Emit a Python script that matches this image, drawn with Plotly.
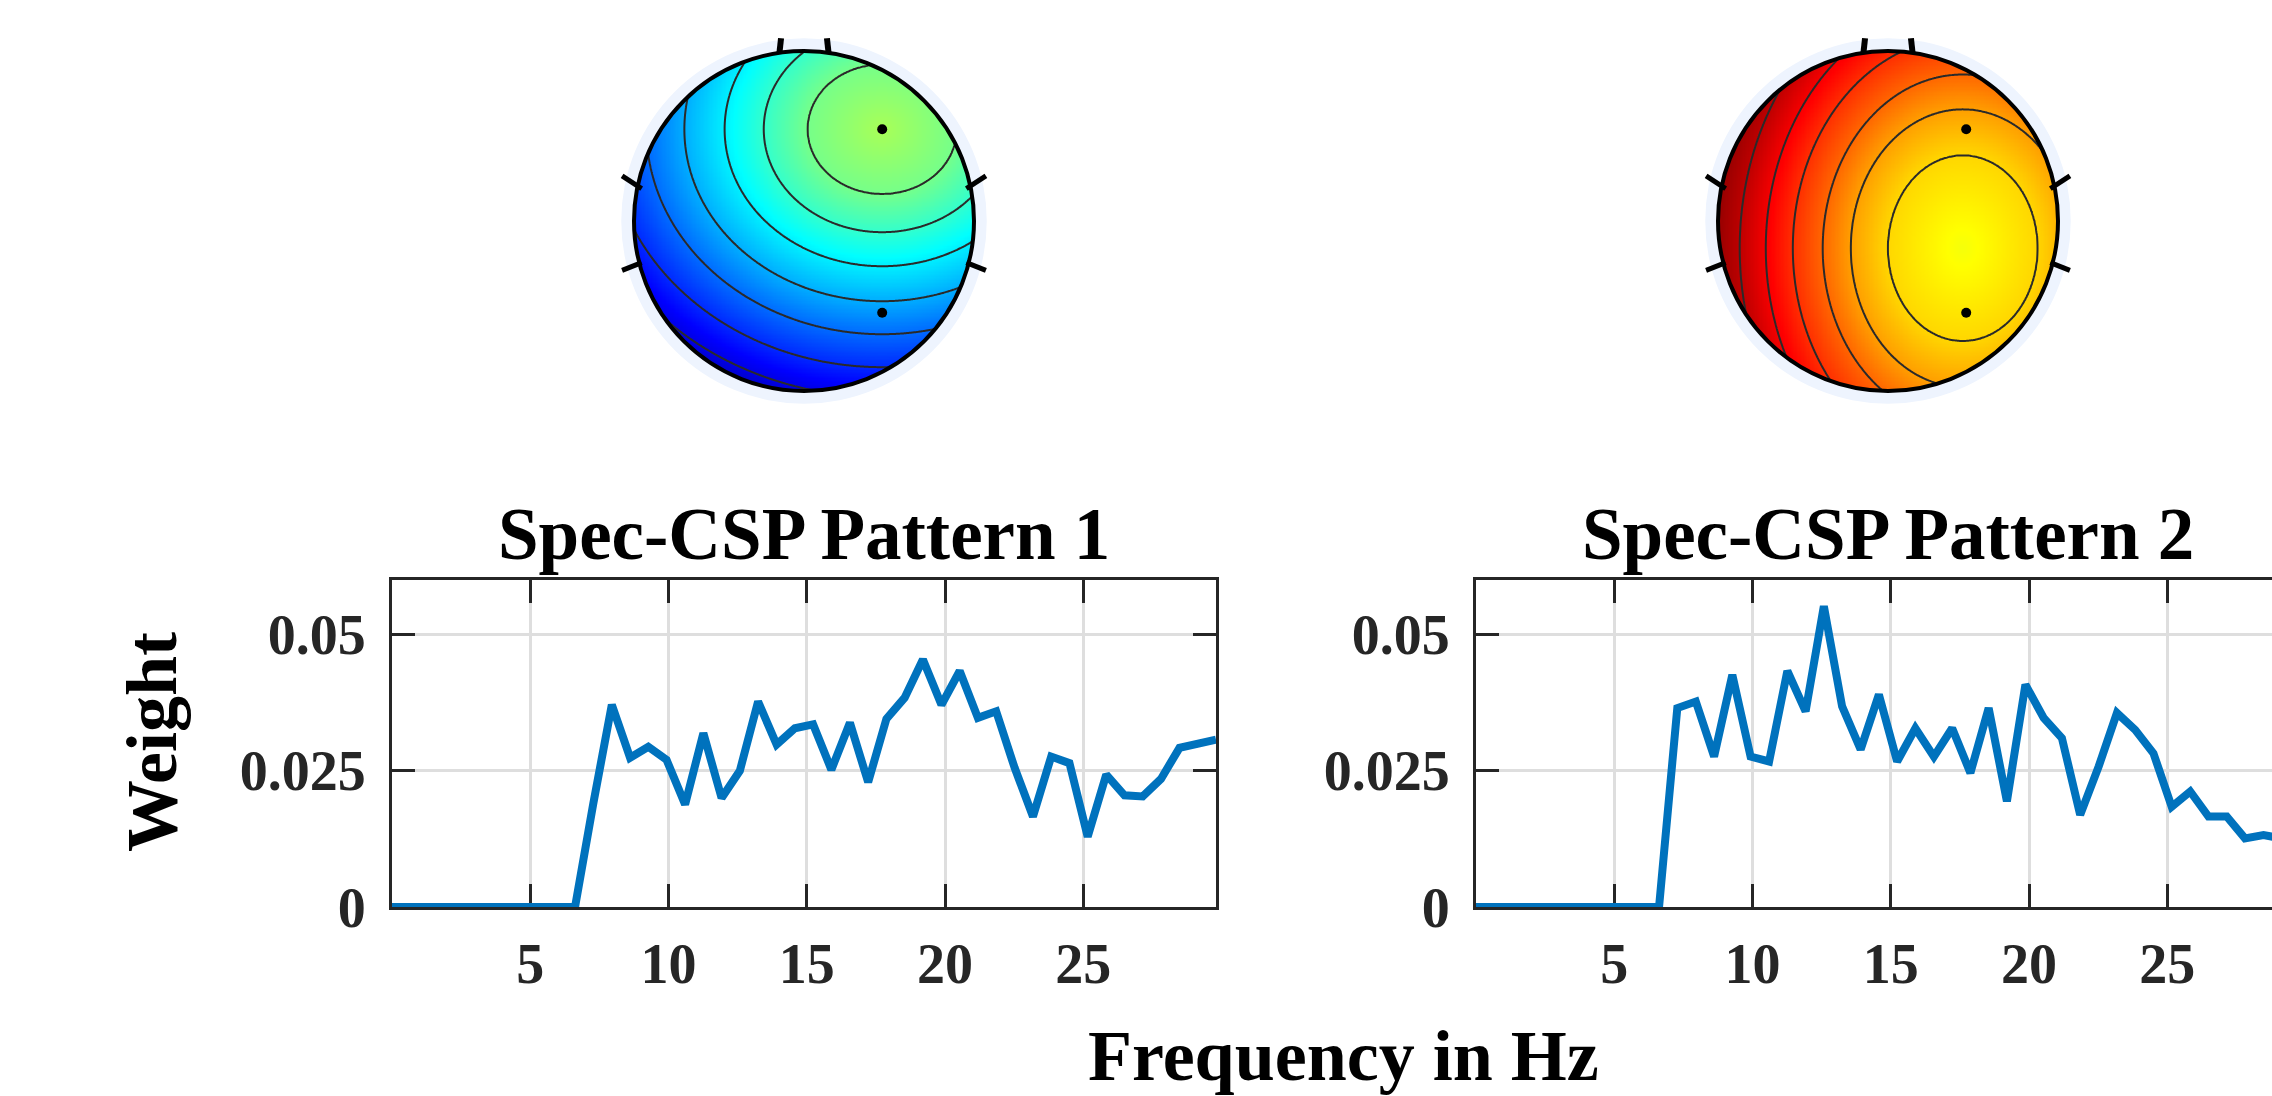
import numpy as np
import plotly.graph_objects as go

# ---------------- data ----------------
FREQ_HZ = [0.00, 0.66, 1.32, 1.99, 2.65, 3.31, 3.97, 4.64, 5.30, 5.96,
           6.62, 7.28, 7.95, 8.61, 9.27, 9.93, 10.60, 11.26, 11.92, 12.58,
           13.24, 13.91, 14.57, 15.23, 15.89, 16.56, 17.22, 17.88, 18.54, 19.20,
           19.87, 20.53, 21.19, 21.85, 22.52, 23.18, 23.84, 24.50, 25.16, 25.83,
           26.49, 27.15, 27.81, 28.48, 29.14, 29.80]

PATTERN1_WEIGHT = [0, 0, 0, 0, 0, 0, 0, 0, 0, 0, 0,
                   0.0190, 0.0371, 0.0274, 0.0294, 0.0270, 0.0188, 0.0319, 0.0200, 0.0250, 0.0377,
                   0.0298, 0.0328, 0.0335, 0.0252, 0.0338, 0.0229, 0.0345, 0.0384, 0.0454, 0.0371,
                   0.0433, 0.0347, 0.0359, 0.0255, 0.0166, 0.0276, 0.0264, 0.0129, 0.0243, 0.0205,
                   0.0203, 0.0235, 0.0292, 0.0298, 0.0307]

PATTERN2_WEIGHT = [0, 0, 0, 0, 0, 0, 0, 0, 0, 0, 0,
                   0.0365, 0.0377, 0.0276, 0.0426, 0.0276, 0.0267, 0.0433, 0.0359, 0.0552, 0.0368,
                   0.0289, 0.0390, 0.0267, 0.0328, 0.0276, 0.0328, 0.0246, 0.0365, 0.0194, 0.0408,
                   0.0347, 0.0310, 0.0169, 0.0258, 0.0356, 0.0325, 0.0282, 0.0184, 0.0212, 0.0166,
                   0.0166, 0.0126, 0.0132, 0.0125, 0.0120]

TITLES = ["Spec-CSP Pattern 1", "Spec-CSP Pattern 2"]
X_TICKS = [5, 10, 15, 20, 25]
Y_TICKS = [0, 0.025, 0.05]
Y_TICK_TEXT = ["0", "0.025", "0.05"]

# scalp maps: electrode positions (head-radius units) and radial value profiles
ELEC_X = [0.46, 0.46]
ELEC_Y = [0.54, -0.54]
MAP1_CENTER = (0.46, 0.54)
MAP1_DIST = [0.0, 0.382, 0.606, 0.806, 1.012, 1.206, 1.40, 1.576, 1.676, 1.80, 2.35]
MAP1_VAL = [0.54, 0.49, 0.425, 0.36, 0.295, 0.23, 0.165, 0.10, 0.06, 0.02, 0.0]
MAP1_LEVELS = (0.035, 0.49, 0.065)
MAP2_CENTER = (0.44, -0.16)
MAP2_DIST = [0.0, 0.441, 0.659, 0.824, 1.0, 1.159, 1.312, 1.471, 1.765]
MAP2_VAL = [0.615, 0.665, 0.72, 0.775, 0.83, 0.885, 0.94, 0.985, 1.0]
MAP2_LEVELS = (0.665, 0.94, 0.055)

# ---------------- geometry ----------------
W, H = 2272, 1096
def px(x):
    return x / W
def py(y):
    return 1 - y / H

FONT = "Liberation Serif"
AX_COL = "#262626"
LINE_BLUE = "#0072BD"

JET = [[0.0, "rgb(0,0,128)"], [0.125, "rgb(0,0,255)"], [0.375, "rgb(0,255,255)"],
       [0.625, "rgb(255,255,0)"], [0.875, "rgb(255,0,0)"], [1.0, "rgb(128,0,0)"]]

fig = go.Figure()

for wts, xa, ya in [(PATTERN1_WEIGHT, "x", "y"), (PATTERN2_WEIGHT, "x2", "y2")]:
    fig.add_trace(go.Scatter(x=FREQ_HZ, y=wts, mode="lines", xaxis=xa, yaxis=ya,
                             line=dict(color=LINE_BLUE, width=8), cliponaxis=False,
                             showlegend=False, hoverinfo="skip"))

common_x = dict(tickvals=X_TICKS, ticks="inside", ticklen=23, tickwidth=3, tickcolor=AX_COL,
                showline=True, linewidth=3, linecolor=AX_COL, showgrid=True,
                gridcolor="#dedede", gridwidth=3, zeroline=False, layer="below traces",
                automargin=False,
                tickfont=dict(family=FONT, size=56, color=AX_COL, weight="bold"),
                ticklabelstandoff=6)
common_y = dict(tickvals=Y_TICKS, ticktext=Y_TICK_TEXT, ticks="inside", ticklen=23, tickwidth=3,
                tickcolor=AX_COL, showline=True, linewidth=3, linecolor=AX_COL, showgrid=True,
                gridcolor="#dedede", gridwidth=3, zeroline=False, layer="below traces",
                automargin=False, range=[0, 0.06],
                tickfont=dict(family=FONT, size=56, color=AX_COL, weight="bold"),
                ticklabelstandoff=12)

PXHZ = (1216 - 392) / 29.8
x2_right = (W - 1476) / PXHZ

fig.update_layout(
    xaxis=dict(domain=[px(392), px(1216)], range=[0, 29.8], mirror="ticks", anchor="y", **common_x),
    yaxis=dict(domain=[py(907), py(580)], mirror="ticks", anchor="x", **common_y),
    xaxis2=dict(domain=[px(1476), 1.0], range=[0, x2_right], mirror="ticks", anchor="y2", **common_x),
    yaxis2=dict(domain=[py(907), py(580)], mirror=False, anchor="x2", **common_y),
)

g = np.linspace(-1, 1, 261)
GX, GY = np.meshgrid(g, g)
inside = GX**2 + GY**2 <= 1.0

def field(center, dist, val, sx, sy):
    d = np.sqrt(((GX - center[0]) / sx) ** 2 + ((GY - center[1]) / sy) ** 2)
    z = np.interp(d, dist, val)
    return np.where(inside, z, np.nan)

Z1 = field(MAP1_CENTER, MAP1_DIST, MAP1_VAL, 1.15, 1.0)
Z2 = field(MAP2_CENTER, MAP2_DIST, MAP2_VAL, 1.0, 1.24)

HEAD_R_PX = 170.0
SPAN = 1.2
topo = [(804, 221, Z1, MAP1_LEVELS, "x3", "y3"),
        (1888, 221, Z2, MAP2_LEVELS, "x4", "y4")]

layout_extra = {}
shapes = []
for cx, cy, Z, (c0, c1, cs), xa, ya in topo:
    half = SPAN * HEAD_R_PX
    layout_extra["xaxis" + xa[1:]] = dict(domain=[px(cx - half), px(cx + half)], range=[-SPAN, SPAN],
                                          visible=False, anchor=ya, fixedrange=True, automargin=False)
    layout_extra["yaxis" + ya[1:]] = dict(domain=[py(cy + half), py(cy - half)], range=[-SPAN, SPAN],
                                          visible=False, anchor=xa, fixedrange=True, automargin=False)
    fig.add_trace(go.Heatmap(x=g, y=g, z=Z, colorscale=JET, zmin=0, zmax=1, showscale=False,
                             xaxis=xa, yaxis=ya, hoverinfo="skip"))
    fig.add_trace(go.Contour(x=g, y=g, z=Z, xaxis=xa, yaxis=ya, showscale=False,
                             contours=dict(start=c0, end=c1 + 1e-6, size=cs, coloring="none"),
                             line=dict(color="#2a2a2a", width=2), hoverinfo="skip"))
    fig.add_trace(go.Scatter(x=ELEC_X, y=ELEC_Y, mode="markers", xaxis=xa, yaxis=ya,
                             marker=dict(color="black", size=10), showlegend=False, hoverinfo="skip"))
    shapes.append(dict(type="circle", xref=xa, yref=ya, x0=-1.075, y0=-1.075, x1=1.075, y1=1.075,
                       fillcolor="#EEF4FE", line=dict(width=0), layer="below"))
    shapes.append(dict(type="circle", xref=xa, yref=ya, x0=-1.0, y0=-1.0, x1=1.0, y1=1.0,
                       line=dict(color="black", width=4), layer="above"))
    for sgn in (-1, 1):
        shapes.append(dict(type="line", xref=xa, yref=ya, x0=sgn * 0.145, y0=0.985,
                           x1=sgn * 0.135, y1=1.075, line=dict(color="black", width=6), layer="above"))
        shapes.append(dict(type="line", xref=xa, yref=ya, x0=sgn * 0.955, y0=0.19,
                           x1=sgn * 1.07, y1=0.265, line=dict(color="black", width=5), layer="above"))
        shapes.append(dict(type="line", xref=xa, yref=ya, x0=sgn * 0.955, y0=-0.245,
                           x1=sgn * 1.07, y1=-0.29, line=dict(color="black", width=5), layer="above"))

fig.update_layout(**layout_extra)

ann = []
for t, cx in zip(TITLES, [804, 1888]):
    ann.append(dict(text=t, x=px(cx), y=py(534), xref="paper", yref="paper", showarrow=False,
                    xanchor="center", yanchor="middle",
                    font=dict(family=FONT, size=73, color="black", weight="bold")))
ann.append(dict(text="Weight", x=px(152), y=py(742), xref="paper", yref="paper", showarrow=False,
                textangle=-90, xanchor="center", yanchor="middle",
                font=dict(family=FONT, size=72, color="black", weight="bold")))
ann.append(dict(text="Frequency in Hz", x=px(1343), y=py(1056), xref="paper", yref="paper",
                showarrow=False, xanchor="center", yanchor="middle",
                font=dict(family=FONT, size=72, color="black", weight="bold")))

fig.update_layout(width=W, height=H, autosize=False, margin=dict(l=0, r=0, t=0, b=0, pad=0),
                  paper_bgcolor="white", plot_bgcolor="white", showlegend=False,
                  annotations=ann, shapes=shapes)

fig.write_html("out.html", config={"displayModeBar": False})
